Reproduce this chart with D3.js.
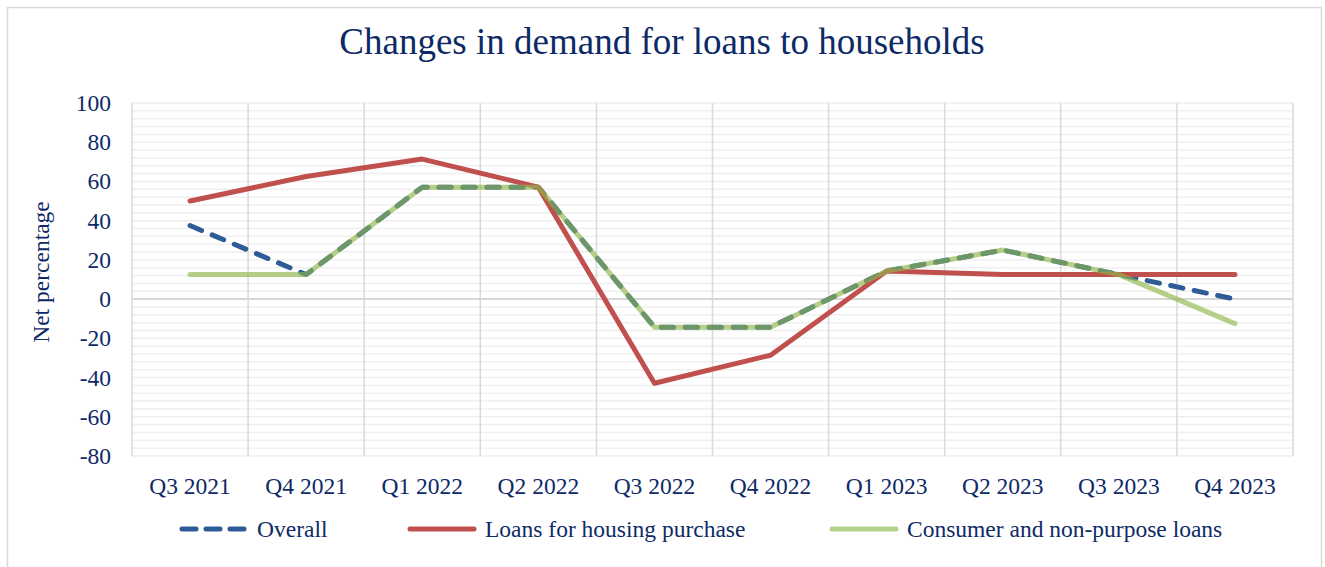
<!DOCTYPE html>
<html>
  <head>
    <meta charset="utf-8" />
    <script src="https://d3js.org/d3.v7.min.js"></script>
    <style>
      body,
      html {
        margin: 0;
        padding: 0;
        background: #fff;
        overflow: hidden;
      }
      text {
        font-family: "Liberation Serif", "Times New Roman", serif;
        fill: #0e2a66;
      }
    </style>
    <title>loans</title>
  </head>

  <body>
    <svg id="chart" width="1325" height="567"></svg>

    <script>
      // data
      var quarters = [
        "Q3 2021", "Q4 2021", "Q1 2022", "Q2 2022", "Q3 2022",
        "Q4 2022", "Q1 2023", "Q2 2023", "Q3 2023", "Q4 2023"
      ];
      var overall = [37.5, 12.5, 57.1, 57.1, -14.3, -14.3, 14.3, 25, 12.5, 0];
      var housing = [50, 62.5, 71.4, 57.1, -42.9, -28.6, 14.3, 12.5, 12.5, 12.5];
      var consumer = [12.5, 12.5, 57.1, 57.1, -14.3, -14.3, 14.3, 25, 12.5, -12.5];
      var yTicks = [-80, -60, -40, -20, 0, 20, 40, 60, 80, 100];

      var svg = d3.select("#chart");
      var plotLeft = 132, plotRight = 1293, plotTop = 103, plotBottom = 456;
      var labelSize = "23.5px";

      // outer chart border
      svg
        .append("rect")
        .attr("x", 7.5)
        .attr("y", 7.5)
        .attr("width", 1314)
        .attr("height", 600)
        .style("fill", "none")
        .style("stroke", "#d9d9d9")
        .style("stroke-width", "1.5px");

      svg
        .append("text")
        .attr("x", 662)
        .attr("y", 54)
        .attr("text-anchor", "middle")
        .style("font-size", "37px")
        .text("Changes in demand for loans to households");

      var xScale = d3.scaleBand().domain(quarters).range([plotLeft, plotRight]);
      var yScale = d3.scaleLinear().domain([-80, 100]).range([plotBottom, plotTop]);

      var grid = svg.append("g");

      // minor horizontal gridlines every 4
      grid
        .selectAll(".hgrid")
        .data(d3.range(-80, 101, 4))
        .enter()
        .append("line")
        .attr("x1", plotLeft)
        .attr("x2", plotRight)
        .attr("y1", (d) => yScale(d))
        .attr("y2", (d) => yScale(d))
        .style("stroke", (d) => (d === 0 ? "#d6d6d6" : "#efefef"))
        .style("stroke-width", (d) => (d === 0 ? "2px" : "1.5px"));

      // vertical lines at category edges
      grid
        .selectAll(".vgrid")
        .data(quarters.map((q) => xScale(q)).concat([plotRight]))
        .enter()
        .append("line")
        .attr("x1", (d) => d)
        .attr("x2", (d) => d)
        .attr("y1", plotTop)
        .attr("y2", plotBottom)
        .style("stroke", "#d9d9d9")
        .style("stroke-width", "1.5px");

      var yAxis = d3
        .axisLeft(yScale)
        .tickValues(yTicks)
        .tickFormat((d) => String(d))
        .tickSize(0)
        .tickPadding(21);
      var gy = svg
        .append("g")
        .attr("transform", "translate(" + plotLeft + ",0)")
        .call(yAxis);
      gy.select(".domain").remove();
      gy.selectAll("text")
        .style("font-size", labelSize)
        .style("font-family", "Liberation Serif")
        .style("fill", "#0e2a66");

      var xAxis = d3.axisBottom(xScale).tickSize(0).tickPadding(21);
      var gx = svg
        .append("g")
        .attr("transform", "translate(0," + plotBottom + ")")
        .call(xAxis);
      gx.select(".domain").remove();
      gx.selectAll("text")
        .style("font-size", labelSize)
        .style("font-family", "Liberation Serif")
        .style("fill", "#0e2a66");

      svg
        .append("text")
        .attr("transform", "translate(49,272) rotate(-90)")
        .attr("text-anchor", "middle")
        .style("font-size", labelSize)
        .text("Net percentage");

      var line = d3
        .line()
        .x((d, i) => xScale(quarters[i]) + xScale.bandwidth() / 2)
        .y((d) => yScale(d));

      var series = [
        { name: "Overall", values: overall, color: "#2e5c97", dash: "12.5 11.5", opacity: 1 },
        { name: "Loans for housing purchase", values: housing, color: "#c0504d", dash: null, opacity: 1 },
        { name: "Consumer and non-purpose loans", values: consumer, color: "#8fb74b", dash: null, opacity: 0.65 }
      ];

      series.forEach(function (s) {
        svg
          .append("path")
          .datum(s.values)
          .attr("d", line)
          .style("fill", "none")
          .style("stroke", s.color)
          .style("stroke-width", "5px")
          .style("stroke-linecap", "round")
          .style("stroke-linejoin", "round")
          .style("stroke-dasharray", s.dash)
          .style("opacity", s.opacity);
      });

      // legend
      var legendX = [180, 408, 830];
      var legend = svg
        .selectAll(".legend")
        .data(series)
        .enter()
        .append("g")
        .attr("transform", (d, i) => "translate(" + legendX[i] + ",529)");
      legend
        .append("line")
        .attr("x1", 2)
        .attr("x2", 66)
        .style("stroke", (d) => d.color)
        .style("stroke-width", "5px")
        .style("stroke-linecap", "round")
        .style("stroke-dasharray", (d) => (d.dash ? "14 10" : null))
        .style("opacity", (d) => d.opacity);
      legend
        .append("text")
        .attr("x", 77)
        .attr("y", 8)
        .style("font-size", labelSize)
        .text((d) => d.name);
    </script>
  </body>
</html>
